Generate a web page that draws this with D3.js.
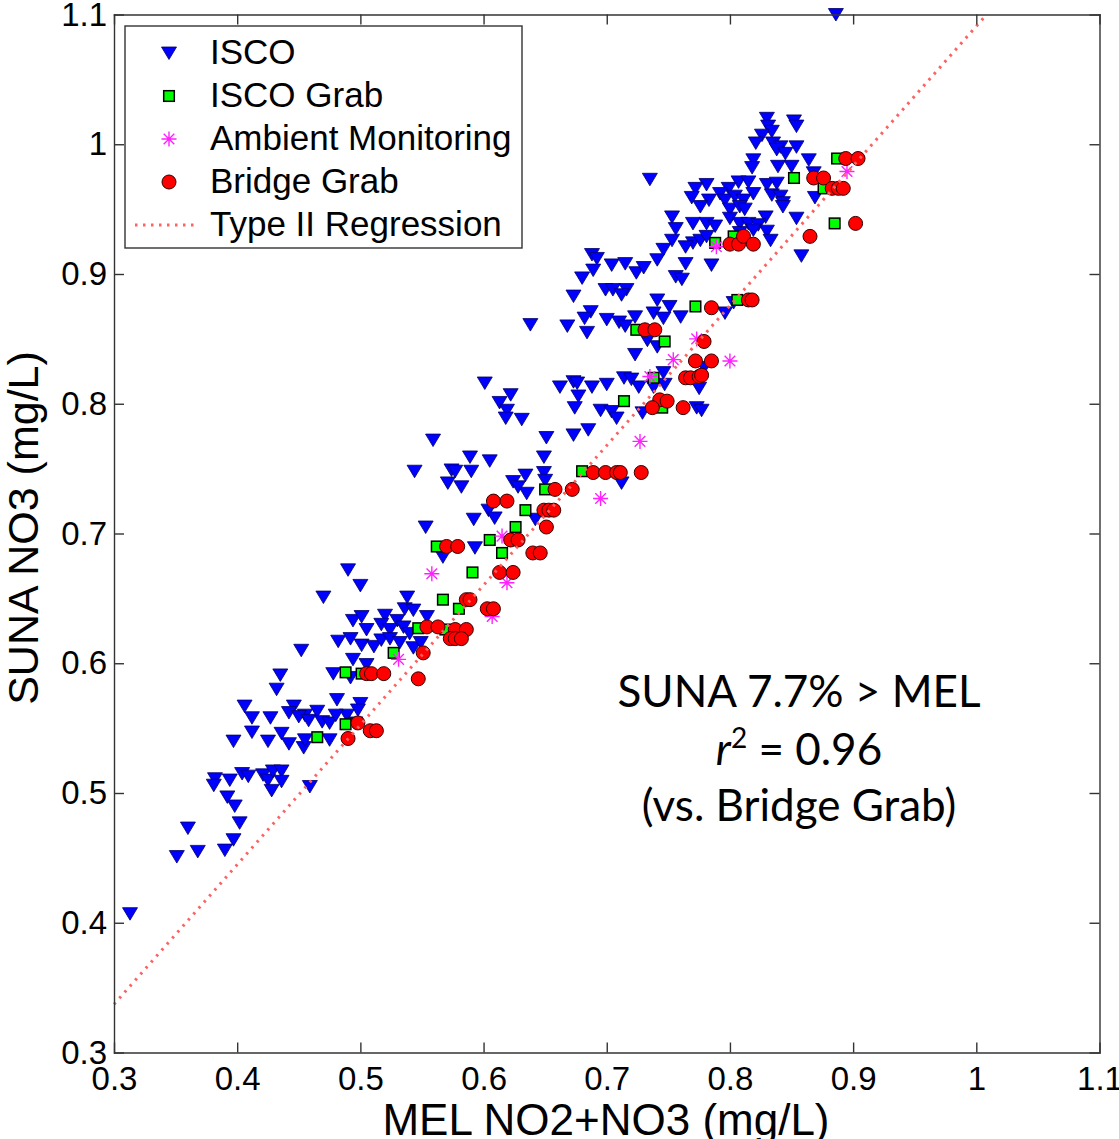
<!DOCTYPE html>
<html>
<head>
<meta charset="utf-8">
<script src="https://d3js.org/d3.v7.min.js"></script>
<style>
	body { margin: 0; background: #fff; }
	svg { display: block; }
	.tick text { font-family: "Liberation Sans", Arial, sans-serif; font-size: 33px; fill: #000; }
	.tick line, .domain { stroke: #333; stroke-width: 1.4; }
</style>
</head>
<body>
<div class="chart"></div>
<script>

// ticks
var xTicks = [0.3, 0.4, 0.5, 0.6, 0.7, 0.8, 0.9, 1.0, 1.1];
var xTickLabels = ["0.3", "0.4", "0.5", "0.6", "0.7", "0.8", "0.9", "1", "1.1"];
var yTicks = [0.3, 0.4, 0.5, 0.6, 0.7, 0.8, 0.9, 1.0, 1.1];
var yTickLabels = ["0.3", "0.4", "0.5", "0.6", "0.7", "0.8", "0.9", "1", "1.1"];

// series, [MEL, SUNA] in mg/L
var isco = [
	[0.886,1.100],[0.830,1.020],[0.852,1.018],[0.854,1.014],[0.831,1.014],[0.834,1.010],[0.826,1.007],
	[0.821,1.001],[0.835,1.001],[0.841,0.998],[0.854,0.998],[0.838,0.996],[0.845,0.993],[0.819,0.988],
	[0.864,0.988],[0.818,0.982],[0.839,0.983],[0.850,0.983],[0.868,0.978],[0.735,0.973],[0.781,0.969],
	[0.772,0.966],[0.807,0.971],[0.815,0.971],[0.799,0.966],[0.792,0.962],[0.819,0.962],[0.830,0.969],
	[0.838,0.970],[0.834,0.961],[0.841,0.960],[0.769,0.959],[0.783,0.957],[0.796,0.957],[0.804,0.960],
	[0.811,0.957],[0.843,0.955],[0.869,0.959],[0.776,0.952],[0.800,0.950],[0.808,0.952],[0.812,0.950],
	[0.829,0.944],[0.843,0.952],[0.854,0.943],[0.753,0.944],[0.756,0.935],[0.770,0.939],[0.781,0.939],
	[0.788,0.937],[0.800,0.943],[0.808,0.939],[0.815,0.939],[0.823,0.938],[0.830,0.933],[0.833,0.926],
	[0.808,0.932],[0.819,0.934],[0.753,0.926],[0.770,0.924],[0.776,0.926],[0.781,0.929],[0.764,0.921],
	[0.746,0.919],[0.785,0.907],[0.858,0.914],[0.688,0.915],[0.692,0.912],[0.704,0.907],[0.715,0.908],
	[0.689,0.903],[0.724,0.901],[0.730,0.905],[0.741,0.911],[0.680,0.897],[0.756,0.898],[0.761,0.896],
	[0.764,0.908],[0.673,0.883],[0.699,0.888],[0.705,0.888],[0.716,0.888],[0.712,0.884],[0.741,0.880],
	[0.751,0.875],[0.687,0.871],[0.682,0.866],[0.700,0.865],[0.710,0.863],[0.715,0.860],[0.723,0.867],
	[0.738,0.870],[0.746,0.866],[0.760,0.867],[0.796,0.870],[0.803,0.878],[0.638,0.861],[0.668,0.860],
	[0.684,0.855],[0.733,0.849],[0.741,0.844],[0.723,0.838],[0.746,0.824],[0.779,0.828],[0.775,0.812],
	[0.714,0.820],[0.720,0.819],[0.726,0.813],[0.738,0.813],[0.747,0.815],[0.729,0.793],[0.773,0.797],
	[0.777,0.795],[0.712,0.739],[0.601,0.816],[0.622,0.807],[0.613,0.801],[0.619,0.795],[0.618,0.789],
	[0.631,0.788],[0.662,0.813],[0.673,0.817],[0.676,0.816],[0.688,0.813],[0.700,0.815],[0.677,0.806],
	[0.674,0.797],[0.695,0.795],[0.704,0.794],[0.708,0.789],[0.559,0.772],[0.651,0.774],[0.673,0.776],
	[0.685,0.780],[0.589,0.759],[0.605,0.756],[0.649,0.759],[0.544,0.748],[0.574,0.749],[0.577,0.748],
	[0.590,0.748],[0.571,0.739],[0.582,0.736],[0.634,0.745],[0.649,0.747],[0.650,0.741],[0.624,0.740],
	[0.628,0.736],[0.635,0.731],[0.604,0.718],[0.609,0.712],[0.592,0.711],[0.553,0.705],[0.642,0.711],
	[0.567,0.682],[0.593,0.689],[0.490,0.672],[0.500,0.660],[0.470,0.651],[0.538,0.651],[0.536,0.642],
	[0.543,0.641],[0.554,0.636],[0.494,0.633],[0.501,0.636],[0.520,0.637],[0.530,0.633],[0.505,0.626],
	[0.517,0.630],[0.524,0.626],[0.535,0.628],[0.540,0.623],[0.482,0.617],[0.492,0.619],[0.501,0.614],
	[0.511,0.613],[0.517,0.618],[0.524,0.619],[0.532,0.616],[0.543,0.612],[0.549,0.616],[0.452,0.610],
	[0.494,0.603],[0.505,0.599],[0.478,0.592],[0.492,0.589],[0.481,0.572],[0.500,0.569],[0.498,0.564],
	[0.465,0.563],[0.489,0.560],[0.455,0.560],[0.435,0.591],[0.432,0.580],[0.406,0.567],[0.412,0.558],
	[0.427,0.558],[0.446,0.567],[0.442,0.562],[0.450,0.559],[0.458,0.556],[0.469,0.555],[0.475,0.554],
	[0.496,0.554],[0.412,0.547],[0.436,0.546],[0.425,0.540],[0.442,0.538],[0.397,0.540],[0.454,0.535],
	[0.455,0.541],[0.475,0.541],[0.382,0.511],[0.381,0.506],[0.394,0.510],[0.404,0.515],[0.409,0.513],
	[0.421,0.514],[0.425,0.510],[0.429,0.517],[0.436,0.517],[0.436,0.509],[0.428,0.502],[0.392,0.497],
	[0.398,0.490],[0.459,0.505],[0.402,0.477],[0.360,0.473],[0.397,0.464],[0.390,0.456],[0.368,0.455],
	[0.351,0.451],[0.313,0.407],[0.480,0.560]
];
var iscoGrab = [
	[0.887,0.989],[0.852,0.974],[0.876,0.966],[0.885,0.939],[0.788,0.924],[0.803,0.929],[0.772,0.875],
	[0.806,0.880],[0.724,0.857],[0.747,0.848],[0.738,0.820],[0.714,0.802],[0.745,0.797],[0.680,0.748],
	[0.650,0.734],[0.634,0.718],[0.626,0.705],[0.605,0.695],[0.615,0.685],[0.562,0.690],[0.591,0.670],
	[0.567,0.649],[0.580,0.642],[0.547,0.627],[0.569,0.626],[0.527,0.608],[0.488,0.593],[0.501,0.592],
	[0.488,0.553],[0.465,0.543]
];
var ambient = [
	[0.895,0.979],[0.789,0.921],[0.773,0.850],[0.754,0.834],[0.800,0.833],[0.735,0.821],[0.727,0.771],
	[0.695,0.727],[0.615,0.698],[0.558,0.669],[0.619,0.662],[0.607,0.636],[0.531,0.603]
];
var bridgeGrab = [
	[0.894,0.989],[0.904,0.989],[0.868,0.974],[0.876,0.974],[0.883,0.966],[0.888,0.966],[0.892,0.966],
	[0.902,0.939],[0.865,0.929],[0.800,0.923],[0.807,0.923],[0.811,0.929],[0.819,0.923],[0.785,0.874],
	[0.815,0.880],[0.818,0.880],[0.731,0.857],[0.739,0.857],[0.779,0.848],[0.772,0.833],[0.785,0.833],
	[0.764,0.820],[0.768,0.820],[0.775,0.821],[0.777,0.822],[0.743,0.803],[0.749,0.802],[0.737,0.797],
	[0.762,0.797],[0.689,0.747],[0.699,0.747],[0.708,0.747],[0.711,0.747],[0.728,0.747],[0.658,0.734],
	[0.672,0.734],[0.608,0.725],[0.619,0.725],[0.649,0.718],[0.653,0.718],[0.657,0.718],[0.651,0.705],
	[0.622,0.695],[0.628,0.695],[0.570,0.690],[0.579,0.690],[0.640,0.685],[0.646,0.685],[0.613,0.670],
	[0.624,0.670],[0.586,0.649],[0.589,0.649],[0.603,0.642],[0.608,0.642],[0.554,0.628],[0.563,0.628],
	[0.577,0.626],[0.586,0.626],[0.573,0.619],[0.577,0.619],[0.582,0.619],[0.551,0.608],[0.505,0.592],
	[0.509,0.592],[0.519,0.592],[0.547,0.588],[0.498,0.554],[0.508,0.548],[0.513,0.548],[0.490,0.542]
];

// type II regression, SUNA = slope * MEL + intercept
var regSlope = 1.077;
var regIntercept = 0.014;
var regRange = [0.3, 1.008];

var legendNames = ["ISCO", "ISCO Grab", "Ambient Monitoring", "Bridge Grab", "Type II Regression"];
var noteLines = ["SUNA 7.7% > MEL", "= 0.96", "(vs. Bridge Grab)"];


var W = 1119, H = 1139;
var plot = {left: 114, right: 1099.5, top: 14.5, bottom: 1052.5};

var x = d3.scaleLinear().domain([0.3, 1.1]).range([plot.left, plot.right]);
var y = d3.scaleLinear().domain([0.3, 1.1]).range([plot.bottom, plot.top]);

var svg = d3.select(".chart")
	.append("svg")
	.attr("width", W)
	.attr("height", H)
	;

// marker drawers
function triangle(g){
	g.append("path")
		.attr("d", "M-7.5,-6L7.5,-6L0,6.5Z")
		.attr("fill", "#0000ff")
		.attr("stroke", "#000066")
		.attr("stroke-width", 0.8)
		;
}
function square(g){
	g.append("rect")
		.attr("x", -5.3).attr("y", -5.3)
		.attr("width", 10.6).attr("height", 10.6)
		.attr("fill", "#00ff00")
		.attr("stroke", "#000")
		.attr("stroke-width", 1.5)
		;
}
function star(g){
	g.append("path")
		.attr("d", "M-7.5,0L7.5,0M0,-7.5L0,7.5M-5.3,-5.3L5.3,5.3M-5.3,5.3L5.3,-5.3")
		.attr("stroke", "#ff22ff")
		.attr("stroke-width", 1.4)
		.attr("fill", "none")
		;
}
function circle(g){
	g.append("circle")
		.attr("r", 7)
		.attr("fill", "#ff0000")
		.attr("stroke", "#330000")
		.attr("stroke-width", 1)
		;
}

function drawSeries(data, marker){
	svg.append("g")
		.selectAll("g")
		.data(data)
		.enter()
		.append("g")
		.attr("transform", function(d){ return "translate(" + x(d[0]) + "," + y(d[1]) + ")"; })
		.each(function(){ marker(d3.select(this)); })
		;
}

drawSeries(isco, triangle);
drawSeries(iscoGrab, square);
drawSeries(ambient, star);
drawSeries(bridgeGrab, circle);

// regression line
svg.append("line")
	.attr("x1", x(regRange[0]))
	.attr("y1", y(regSlope * regRange[0] + regIntercept))
	.attr("x2", x(regRange[1]))
	.attr("y2", y(regSlope * regRange[1] + regIntercept))
	.attr("stroke", "#ff6060")
	.attr("stroke-width", 3)
	.attr("stroke-dasharray", "2.5,5.5")
	;


// axes, ticks point inward
svg.append("g")
	.attr("transform", "translate(0," + plot.bottom + ")")
	.call(d3.axisBottom(x).tickValues(xTicks).tickSizeInner(-10).tickSizeOuter(0).tickPadding(14)
		.tickFormat(function(d, i){ return xTickLabels[i]; }))
	;
svg.append("g")
	.attr("transform", "translate(0," + plot.top + ")")
	.call(d3.axisTop(x).tickValues(xTicks).tickSizeInner(-10).tickSizeOuter(0).tickFormat(""))
	;
svg.append("g")
	.attr("transform", "translate(" + plot.left + ",0)")
	.call(d3.axisLeft(y).tickValues(yTicks).tickSizeInner(-10).tickSizeOuter(0).tickPadding(7)
		.tickFormat(function(d, i){ return yTickLabels[i]; }))
	;
svg.append("g")
	.attr("transform", "translate(" + plot.right + ",0)")
	.call(d3.axisRight(y).tickValues(yTicks).tickSizeInner(-10).tickSizeOuter(0).tickFormat(""))
	;
svg.selectAll(".domain").attr("stroke-linecap", "square");


// axis titles
svg.append("text")
	.attr("x", 606)
	.attr("y", 1135)
	.attr("text-anchor", "middle")
	.style("font-family", "'Liberation Sans', Arial, sans-serif")
	.style("font-size", "44px")
	.text("MEL NO2+NO3 (mg/L)")
	;
svg.append("text")
	.attr("transform", "translate(38,528) rotate(-90)")
	.attr("text-anchor", "middle")
	.style("font-family", "'Liberation Sans', Arial, sans-serif")
	.style("font-size", "43px")
	.text("SUNA NO3 (mg/L)")
	;


// legend
var lg = svg.append("g").attr("class", "legend");
lg.append("rect")
	.attr("x", 125).attr("y", 26)
	.attr("width", 397).attr("height", 222)
	.attr("fill", "#fff")
	.attr("stroke", "#333")
	.attr("stroke-width", 1.4)
	;
var legendMarkers = [triangle, square, star, circle];
legendNames.forEach(function(name, i){
	var cy = 53 + i * 43;
	if(i < 4){
		legendMarkers[i](lg.append("g").attr("transform", "translate(169," + cy + ")"));
	}
	else {
		lg.append("line")
			.attr("x1", 135).attr("x2", 199)
			.attr("y1", cy).attr("y2", cy)
			.attr("stroke", "#ff6060")
			.attr("stroke-width", 3)
			.attr("stroke-dasharray", "2.5,5.5")
			;
	}
	lg.append("text")
		.attr("x", 210)
		.attr("y", cy + 11)
		.style("font-family", "'Liberation Sans', Arial, sans-serif")
		.style("font-size", "35px")
		.text(name)
		;
});


// annotation
var note = svg.append("g")
	.style("font-family", "Lato, 'Open Sans', sans-serif")
	.style("font-size", "44px")
	.attr("text-anchor", "middle")
	;
note.append("text").attr("x", 799).attr("y", 707).text(noteLines[0]);
var r2 = note.append("text").attr("x", 799).attr("y", 765);
r2.append("tspan").style("font-style", "italic").text("r");
r2.append("tspan").attr("dy", -17).style("font-size", "28px").text("2");
r2.append("tspan").attr("dy", 17).text(" " + noteLines[1]);
note.append("text").attr("x", 799).attr("y", 821).text(noteLines[2]);

</script>
</body>
</html>
